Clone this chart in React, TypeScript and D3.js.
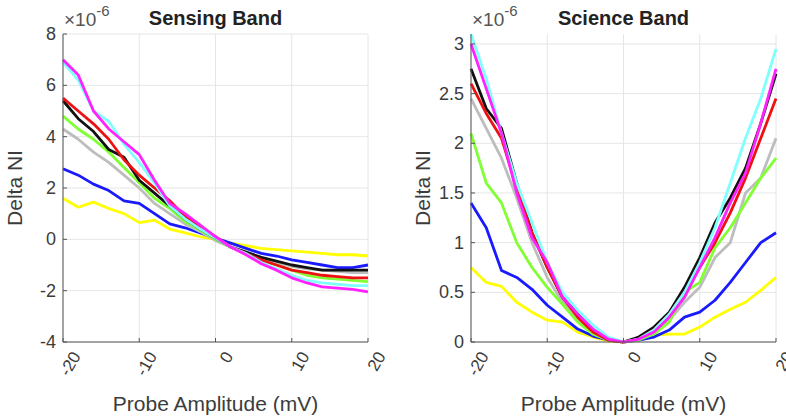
import React from 'react';
import * as d3 from 'd3';

// probe amplitude (mV), sampled every 2 mV
const amps = d3.range(-20, 21, 2);

// Sensing band, Delta NI in units of 1e-6
const sensYellow = [1.6, 1.25, 1.45, 1.2, 1.0, 0.65, 0.75, 0.4, 0.25, 0.1, 0.0, -0.15, -0.25, -0.35, -0.4, -0.45, -0.5, -0.55, -0.6, -0.6, -0.65];
const sensBlue = [2.75, 2.5, 2.15, 1.9, 1.5, 1.4, 1.0, 0.6, 0.45, 0.25, 0.05, -0.15, -0.35, -0.55, -0.65, -0.8, -0.9, -1.0, -1.1, -1.1, -1.0];
const sensGray = [4.3, 3.9, 3.4, 3.0, 2.5, 2.0, 1.4, 1.0, 0.6, 0.3, -0.05, -0.3, -0.5, -0.7, -0.9, -1.05, -1.15, -1.2, -1.25, -1.3, -1.3];
const sensGreen = [4.8, 4.3, 3.9, 3.4, 2.8, 2.2, 1.6, 1.2, 0.7, 0.35, 0.0, -0.3, -0.55, -0.8, -1.0, -1.2, -1.4, -1.5, -1.55, -1.6, -1.65];
const sensBlack = [5.4, 4.7, 4.2, 3.5, 3.2, 2.3, 1.8, 1.3, 0.8, 0.4, 0.05, -0.3, -0.5, -0.7, -0.85, -1.0, -1.1, -1.2, -1.2, -1.2, -1.2];
const sensRed = [5.5, 5.0, 4.5, 3.9, 3.1, 2.5, 2.0, 1.5, 0.9, 0.5, 0.1, -0.3, -0.55, -0.8, -1.0, -1.2, -1.3, -1.4, -1.45, -1.5, -1.5];
const sensCyan = [6.9, 6.2, 5.0, 4.6, 3.7, 3.0, 2.2, 1.3, 0.8, 0.4, 0.05, -0.3, -0.55, -0.9, -1.15, -1.4, -1.6, -1.7, -1.75, -1.8, -1.8];
const sensMagenta = [7.0, 6.4, 5.0, 4.3, 3.8, 3.3, 2.3, 1.4, 1.0, 0.55, 0.1, -0.3, -0.6, -0.95, -1.2, -1.5, -1.7, -1.85, -1.9, -1.95, -2.05];

// Science band, Delta NI in units of 1e-6
const sciYellow = [0.75, 0.6, 0.56, 0.4, 0.3, 0.22, 0.2, 0.1, 0.05, 0.01, 0, 0.02, 0.07, 0.08, 0.08, 0.15, 0.25, 0.33, 0.4, 0.52, 0.65];
const sciBlue = [1.4, 1.15, 0.72, 0.65, 0.53, 0.37, 0.25, 0.13, 0.06, 0.02, 0, 0.02, 0.05, 0.12, 0.25, 0.3, 0.42, 0.6, 0.8, 1.0, 1.1];
const sciGray = [2.45, 2.15, 1.85, 1.45, 1.0, 0.65, 0.4, 0.22, 0.08, 0.02, 0, 0.03, 0.1, 0.22, 0.4, 0.55, 0.85, 1.0, 1.5, 1.65, 2.05];
const sciGreen = [2.1, 1.6, 1.4, 1.0, 0.75, 0.55, 0.38, 0.2, 0.08, 0.02, 0, 0.02, 0.08, 0.2, 0.5, 0.6, 0.95, 1.15, 1.4, 1.65, 1.85];
const sciBlack = [2.75, 2.35, 2.15, 1.6, 1.1, 0.75, 0.45, 0.28, 0.12, 0.03, 0, 0.05, 0.15, 0.3, 0.55, 0.85, 1.2, 1.45, 1.75, 2.2, 2.7];
const sciRed = [2.6, 2.3, 2.05, 1.55, 1.1, 0.75, 0.45, 0.25, 0.1, 0.02, 0, 0.03, 0.12, 0.28, 0.5, 0.75, 1.0, 1.3, 1.65, 2.05, 2.45];
const sciCyan = [3.1, 2.65, 2.1, 1.6, 1.2, 0.8, 0.5, 0.32, 0.17, 0.05, 0, 0.03, 0.12, 0.28, 0.5, 0.8, 1.15, 1.6, 2.05, 2.45, 2.95];
const sciMagenta = [3.0, 2.55, 2.1, 1.5, 1.05, 0.8, 0.45, 0.28, 0.13, 0.03, 0, 0.03, 0.1, 0.25, 0.45, 0.75, 1.05, 1.4, 1.7, 2.2, 2.75];

const lineColors = ['#ffff00', '#1a1aff', '#bdbdbd', '#80ff33', '#111111', '#ee1111', '#80ffff', '#ff22ff'];
const sensSeries = [sensYellow, sensBlue, sensGray, sensGreen, sensBlack, sensRed, sensCyan, sensMagenta];
const sciSeries = [sciYellow, sciBlue, sciGray, sciGreen, sciBlack, sciRed, sciCyan, sciMagenta];

const xTicks = [-20, -10, 0, 10, 20];
const sensTicks = [-4, -2, 0, 2, 4, 6, 8];
const sciTicks = [0, 0.5, 1, 1.5, 2, 2.5, 3];

const font = 'Liberation Sans, Arial, sans-serif';
const textCol = '#3c3c3c';

type PanelProps = {
  left: number;
  title: string;
  series: number[][];
  yDomain: [number, number];
  yTicks: number[];
};

const Panel = ({ left, title, series, yDomain, yTicks }: PanelProps) => {
  const top = 34;
  const bottom = 342;
  const width = 305;
  const x = d3.scaleLinear().domain([-20, 20]).range([left, left + width]);
  const y = d3.scaleLinear().domain(yDomain).range([bottom, top]);
  const line = d3.line<number>()
    .x((d, i) => x(amps[i]))
    .y(d => y(d));
  const cx = left + width / 2;

  return (
    <g>
      {/* grid */}
      {xTicks.map(t => (
        <line key={'gx' + t} x1={x(t)} x2={x(t)} y1={top} y2={bottom} stroke="#e6e6e6" strokeWidth={1} />
      ))}
      {yTicks.map(t => (
        <line key={'gy' + t} x1={left} x2={left + width} y1={y(t)} y2={y(t)} stroke="#e6e6e6" strokeWidth={1} />
      ))}
      {/* data */}
      {series.map((s, i) => (
        <path key={i} d={line(s) || ''} fill="none" stroke={lineColors[i]} strokeWidth={2.8} strokeLinejoin="round" />
      ))}
      {/* axes */}
      <line x1={left} x2={left} y1={top} y2={bottom} stroke="#555" strokeWidth={1} />
      <line x1={left} x2={left + width} y1={bottom} y2={bottom} stroke="#555" strokeWidth={1} />
      {yTicks.map(t => (
        <g key={'yt' + t}>
          <line x1={left} x2={left + 4} y1={y(t)} y2={y(t)} stroke="#555" />
          <text x={left - 7} y={y(t) + 6} textAnchor="end" fontSize={18} fill={textCol} fontFamily={font}>{t}</text>
        </g>
      ))}
      {xTicks.map(t => (
        <g key={'xt' + t}>
          <line x1={x(t)} x2={x(t)} y1={bottom} y2={bottom - 4} stroke="#555" />
          <text transform={`translate(${x(t) + 13},${bottom + 11}) rotate(-60)`} textAnchor="end" dy="0.35em"
            fontSize={17} fill={textCol} fontFamily={font}>{t}</text>
        </g>
      ))}
      {/* exponent */}
      <text x={left + 1} y={26} fontSize={19} fill="#555" fontFamily={font}>
        ×10<tspan dy={-10} fontSize={15}>-6</tspan>
      </text>
      <text x={cx} y={25} textAnchor="middle" fontSize={20} fontWeight="bold" fill="#222" fontFamily={font}>{title}</text>
      <text transform={`translate(${left - 41},${(top + bottom) / 2}) rotate(-90)`} textAnchor="middle"
        fontSize={21} fill={textCol} fontFamily={font}>Delta NI</text>
      <text x={cx} y={411} textAnchor="middle" fontSize={21} fill={textCol} fontFamily={font}>Probe Amplitude (mV)</text>
    </g>
  );
};

export default function App() {
  return (
    <svg width={786} height={419} style={{ position: 'absolute', left: 0, top: 0, background: '#fff' }}>
      <Panel left={63} title="Sensing Band" series={sensSeries} yDomain={[-4, 8]} yTicks={sensTicks} />
      <Panel left={471} title="Science Band" series={sciSeries} yDomain={[0, 3.1]} yTicks={sciTicks} />
    </svg>
  );
}
